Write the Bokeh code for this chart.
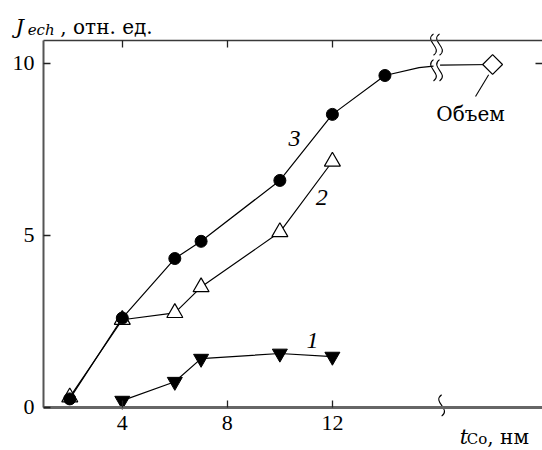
from bokeh.plotting import figure
from bokeh.models import Range1d, LinearAxis, FixedTicker, Label
from bokeh.embed import file_html
from bokeh.resources import INLINE

# --- data ---
c1_x = [4, 6, 7, 10, 12]
c1_y = [0.2, 0.75, 1.42, 1.57, 1.48]
c2_x = [2, 4, 6, 7, 10, 12]
c2_y = [0.3, 2.55, 2.75, 3.5, 5.1, 7.15]
c3_x = [2, 4, 6, 7, 10, 12, 14]
c3_y = [0.25, 2.6, 4.33, 4.83, 6.6, 8.52, 9.65]
c3_tail_x = [15.3, 15.85]
c3_tail_y = [9.88, 9.92]
bulk_line_x = [16.1, 18.1]
bulk_line_y = [9.95, 9.97]
bulk_x = [18.1]
bulk_y = [9.97]
x_ticks = [4, 8, 12]
y_ticks = [0, 5, 10]
x_lo, x_hi = 1, 20          # axis box
y_lo, y_hi = 0, 10.67
break_x = [15.85, 16.08]

SERIF = "Liberation Serif"
CYR = "DejaVu Serif"
FS = "22px"

# whole canvas is the frame; axes sit at fixed locations inside it
p = figure(width=542, height=450, output_backend="svg", toolbar_location=None,
           x_range=Range1d(-0.6375, 20.0), y_range=Range1d(-1.25, 11.83),
           min_border_left=0, min_border_right=0, min_border_top=0,
           min_border_bottom=0, outline_line_color=None)
p.grid.visible = False
p.background_fill_color = "white"
p.border_fill_color = "white"
for r in list(p.left) + list(p.below):
    r.visible = False


def make_axis(loc, ticks, bounds, show_labels=True, **kw):
    ax = LinearAxis(fixed_location=loc, ticker=FixedTicker(ticks=ticks), bounds=bounds,
                    major_tick_in=7, major_tick_out=0, minor_tick_line_color=None,
                    major_tick_line_color="#222222", major_tick_line_width=1.3,
                    major_label_text_font=SERIF, major_label_text_font_size=FS,
                    major_label_text_color="black", major_label_standoff=9, **kw)
    if not show_labels:
        ax.major_label_overrides = {t: "" for t in ticks}
    return ax


p.add_layout(make_axis(y_lo, x_ticks, (x_lo, x_hi), axis_line_color="#666666",
                       axis_line_width=3), "below")
p.add_layout(make_axis(x_lo, y_ticks, (y_lo, y_hi), axis_line_color="#555555",
                       axis_line_width=2), "left")
p.add_layout(make_axis(y_hi, x_ticks, (x_lo, x_hi), show_labels=False,
                       axis_line_color="#3a3a3a", axis_line_width=1.6), "above")
p.add_layout(make_axis(x_hi, [10], (y_lo, y_hi), show_labels=False,
                       axis_line_alpha=0), "right")

LW = 1.2
# curve 1
p.line(c1_x, c1_y, line_color="black", line_width=LW)
p.scatter(c1_x, c1_y, marker="inverted_triangle", size=15, fill_color="black", line_color="black")
# curve 2
p.line(c2_x, c2_y, line_color="black", line_width=LW)
p.scatter(c2_x, c2_y, marker="triangle", size=16, fill_color="white", line_color="black", line_width=1.2)
# curve 3
p.line(c3_x + c3_tail_x, c3_y + c3_tail_y, line_color="black", line_width=LW)
p.scatter(c3_x, c3_y, marker="circle", size=12, fill_color="black", line_color="black")
# bulk
p.line(bulk_line_x, bulk_line_y, line_color="black", line_width=LW)
p.segment(x0=[bulk_x[0] - 0.65], y0=[bulk_y[0] - 0.93], x1=[bulk_x[0] - 0.15], y1=[bulk_y[0] - 0.3],
          line_color="black", line_width=1.1)
p.scatter(bulk_x, bulk_y, marker="square", angle=0.785398, size=14, fill_color="white",
          line_color="black", line_width=1.2)

# break marks: S-shaped wiggles
wx, wy = [], []
for yc in (10.55, 9.8):
    for bx in break_x:
        wx.append(bx)
        wy.append(yc)
wx.append(16.16)
wy.append(0.06)
h = 0.31
w = 0.38
p.bezier(x0=wx, y0=[y - h for y in wy], x1=wx, y1=[y + h for y in wy],
         cx0=[x + w for x in wx], cy0=[y - h / 3 for y in wy],
         cx1=[x - w for x in wx], cy1=[y + h / 3 for y in wy],
         line_color="black", line_width=1.1)

# curve labels
for xx, yy, t in ((10.56, 7.82, "3"), (11.59, 6.1, "2"), (11.24, 1.96, "1")):
    p.add_layout(Label(x=xx, y=yy, text=t, text_align="center", text_baseline="middle",
                       text_font=SERIF, text_font_style="italic", text_font_size="24px",
                       text_color="black"))

p.add_layout(Label(x=17.26, y=8.52, text="Объем", text_align="center", text_baseline="alphabetic",
                   text_font=CYR, text_font_size="20px", text_color="black"))


# axis titles
def lab(x, y, t, size, style="normal", font=CYR):
    p.add_layout(Label(x=x, y=y, text=t, text_baseline="alphabetic", text_font=font,
                       text_font_style=style, text_font_size=size, text_color="black"))


lab(-0.07, 11.07, "J", "21px", "italic")
lab(0.4, 10.97, "ech", "15px", "italic")
lab(1.64, 11.07, ", отн. ед.", "20px")
lab(16.85, -0.85, "t", "21px", "italic")
lab(17.12, -0.93, "Co", "15px")
lab(17.9, -0.85, ", нм", "20px")

open("out.html", "w").write(file_html(p, INLINE))
